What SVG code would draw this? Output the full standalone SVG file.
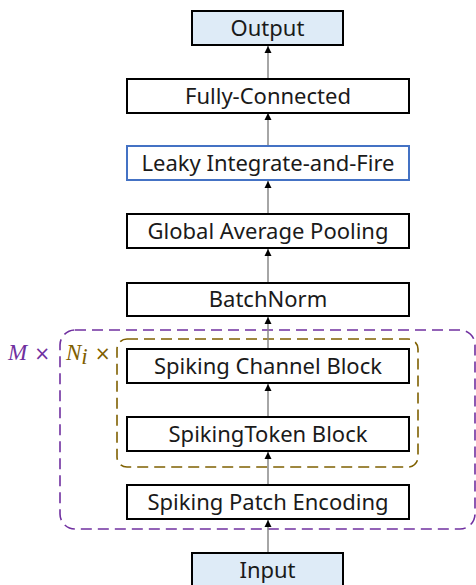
<svg xmlns="http://www.w3.org/2000/svg" width="476" height="585" viewBox="0 0 476 585">
<defs>
<marker id="ah" markerWidth="8" markerHeight="8" refX="7" refY="4" orient="auto" markerUnits="userSpaceOnUse">
<path d="M0,0.5 L7,4 L0,7.5 Z" fill="#000"/>
</marker>
<style>
.box{fill:#fff;stroke:#000;stroke-width:2}
.io{fill:#DEEBF7;stroke:#000;stroke-width:2}
.lif{fill:#fff;stroke:#4472C4;stroke-width:2}
.t{font-family:"Noto Sans","Open Sans",sans-serif;font-size:22px;fill:#1a1a1a;text-anchor:middle}
.c{stroke:#888;stroke-width:1.5;fill:none;marker-end:url(#ah)}
.m{font-family:"Liberation Serif","DejaVu Serif",serif;font-style:italic;font-size:23px}
.x{font-family:"DejaVu Sans",sans-serif;font-size:19px}
</style>
</defs>
<g id="outer-loop">
<rect x="60" y="330" width="415" height="199" rx="15" fill="none" stroke="#7030A0" stroke-width="1.6" stroke-dasharray="11 6"/>
</g>
<g id="inner-loop">
<rect x="117" y="339" width="301" height="128" rx="10" fill="none" stroke="#7F6000" stroke-width="1.6" stroke-dasharray="11 6"/>
</g>
<g id="connectors">
<line class="c" x1="268" y1="553" x2="268" y2="520"/>
<line class="c" x1="268" y1="485" x2="268" y2="452"/>
<line class="c" x1="268" y1="417" x2="268" y2="384"/>
<line class="c" x1="268" y1="349" x2="268" y2="317"/>
<line class="c" x1="268" y1="283" x2="268" y2="249"/>
<line class="c" x1="268" y1="214" x2="268" y2="181"/>
<line class="c" x1="268" y1="146" x2="268" y2="113"/>
<line class="c" x1="268" y1="79" x2="268" y2="46"/>
</g>
<g id="output"><rect class="io" x="192" y="11" width="151" height="34"/><text class="t" x="267.5" y="36">Output</text></g>
<g id="fc"><rect class="box" x="127" y="79" width="282" height="34"/><text class="t" x="268" y="104">Fully-Connected</text></g>
<g id="lif"><rect class="lif" x="127" y="146" width="282" height="34"/><text class="t" x="268" y="171">Leaky Integrate-and-Fire</text></g>
<g id="gap"><rect class="box" x="127" y="214" width="282" height="34"/><text class="t" x="268" y="239">Global Average Pooling</text></g>
<g id="bn"><rect class="box" x="127" y="283" width="282" height="33"/><text class="t" x="268" y="307">BatchNorm</text></g>
<g id="scb"><rect class="box" x="127" y="349" width="282" height="34"/><text class="t" x="268" y="374">Spiking Channel Block</text></g>
<g id="stb"><rect class="box" x="127" y="417" width="282" height="34"/><text class="t" x="268" y="442">SpikingToken Block</text></g>
<g id="spe"><rect class="box" x="127" y="485" width="282" height="34"/><text class="t" x="268" y="510">Spiking Patch Encoding</text></g>
<g id="input"><rect class="io" x="192" y="553" width="151" height="40"/><text class="t" x="267.5" y="578">Input</text></g>
<g id="labels">
<text x="8" y="360" fill="#7030A0"><tspan class="m">M</tspan><tspan class="x" dx="7">×</tspan></text>
<text x="66" y="360" fill="#7F6000"><tspan class="m">N</tspan><tspan class="m" font-size="17" dy="4">i</tspan><tspan class="x" dx="7" dy="-4">×</tspan></text>
</g>
</svg>
